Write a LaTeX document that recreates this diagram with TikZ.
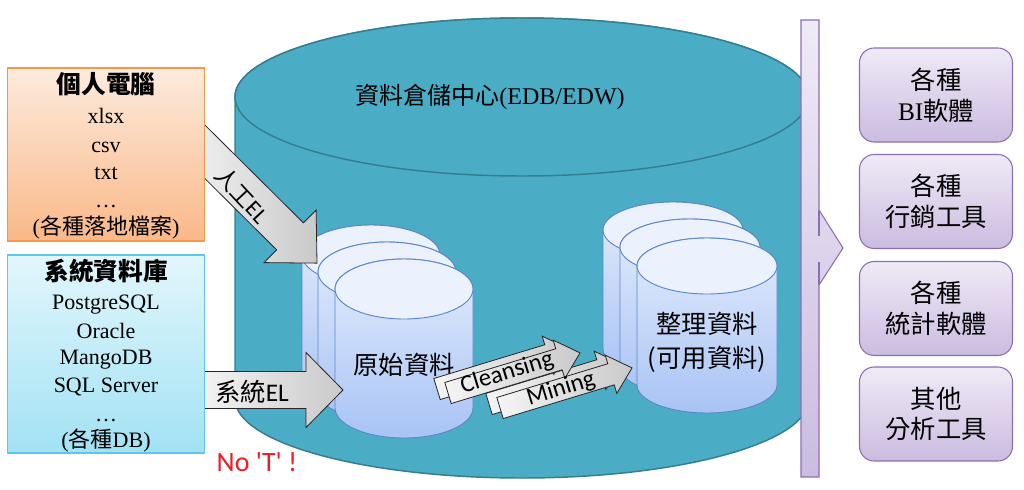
\documentclass[tikz,border=0pt]{standalone}
\usepackage{fontspec}
\setmainfont{Liberation Serif}
\newfontfamily\cjk{Noto Sans CJK TC}
\newfontfamily\calfont{Carlito}
\definecolor{teal1}{HTML}{4BACC6}
\definecolor{teal2}{HTML}{357D91}
\definecolor{cyltop}{HTML}{E3ECFC}
\definecolor{cylbot}{HTML}{A8C3F4}
\definecolor{cylline}{HTML}{5B87C9}
\definecolor{orgtop}{HTML}{FDEBDD}
\definecolor{orgbot}{HTML}{F9B888}
\definecolor{orgline}{HTML}{F79646}
\definecolor{blutop}{HTML}{E2F6FC}
\definecolor{blubot}{HTML}{A2E2F4}
\definecolor{bluline}{HTML}{5BC8E6}
\definecolor{purtop}{HTML}{EFEAF6}
\definecolor{purbot}{HTML}{CBBCE0}
\definecolor{purline}{HTML}{8C6FB3}
\definecolor{redtxt}{HTML}{EE1C25}
% cylinder: cx, top cy, bottom cy, rx, ry, body style, top style
\newcommand\cyl[7]{%
  \path[#6] ({#1-#4},-#2) -- ({#1-#4},-#3)
    arc[start angle=180,end angle=360,x radius=#4,y radius=#5]
    -- ({#1+#4},-#2)
    arc[start angle=0,end angle=180,x radius=#4,y radius=#5] -- cycle;
  \path[#7] (#1,-#2) ellipse[x radius=#4,y radius=#5];}
% block arrow: tail x, tail y, angle, length, shaft half, head half, head length, style
\newcommand\barrow[8]{%
  \begin{scope}[shift={(#1,-#2)},rotate=#3]
  \path[#8] (0,#5) -- ({#4-#7},#5) -- ({#4-#7},#6) -- (#4,0)
    -- ({#4-#7},-#6) -- ({#4-#7},-#5) -- (0,-#5) -- cycle;
  \end{scope}}
\begin{document}
\begin{tikzpicture}[x=0.75pt,y=0.75pt,
  bigcyl/.style={fill=teal1,draw=teal2,line width=1.1pt},
  cylbody/.style={top color=cyltop,bottom color=cylbot,draw=cylline,line width=0.7pt},
  cylcap/.style={fill=cyltop!70!white,draw=cylline,line width=0.7pt},
  greyarrow/.style={left color=gray!8,right color=gray!42,draw=black!85,line width=0.6pt},
  srcbox/.style={line width=0.9pt,inner sep=0pt},
  srcline/.style={font=\fontsize{16.5}{18}\selectfont,inner sep=0pt,anchor=base},
  srctitle/.style={font=\cjk\bfseries\fontsize{18.5}{20}\selectfont,inner sep=0pt,anchor=base},
  cyltext/.style={font=\cjk\fontsize{19}{21}\selectfont,inner sep=0pt},
  arrowtext/.style={font=\fontsize{18.5}{20}\selectfont,inner sep=0pt},
  tool/.style={rounded corners=11pt,draw=purline,top color=purtop,bottom color=purbot,
    line width=0.8pt,minimum width={153*0.75pt},minimum height={94*0.75pt},
    align=center,font=\cjk\fontsize{19}{23}\selectfont,inner sep=0pt}]
\useasboundingbox (0,0) rectangle (1024,-489);
\fill[white] (0,0) rectangle (1024,-489);

% big warehouse cylinder
\cyl{522}{97}{399}{287}{79}{bigcyl}{bigcyl}
\node[font=\fontsize{18}{20}\selectfont,inner sep=0pt] (edw) at (490,-97) {{\cjk 資料倉儲中心}(EDB/EDW)};

% raw data stack
\cyl{371}{255}{374}{69}{30}{cylbody}{cylcap}
\cyl{387}{272}{391}{69}{30}{cylbody}{cylcap}
\cyl{404}{289}{408}{69}{30}{cylbody}{cylcap}
\node[cyltext] (raw) at (404,-365) {原始資料};

% cleaned data stack
\cyl{673}{230}{349}{70}{28}{cylbody}{cylcap}
\cyl{690}{247}{367}{70}{28}{cylbody}{cylcap}
\cyl{707}{266}{385}{70}{28}{cylbody}{cylcap}
\node[cyltext] (clean1) at (707,-324) {整理資料};
\node[cyltext] (clean2) at (707,-359) {({\cjk 可用資料})};

% arrows
\barrow{190}{137}{-44.8}{179}{19}{37}{38}{greyarrow}
\node[font=\fontsize{17}{18}\selectfont,inner sep=0pt,rotate=-47] (manual) at (242,-195) {{\cjk 人工}{\calfont EL}};
\barrow{195}{390}{0}{148}{18.5}{37.5}{37}{greyarrow}
\node[font=\fontsize{19}{20}\selectfont,inner sep=0pt] (sysel) at (252,-392) {{\cjk 系統}{\calfont EL}};

\barrow{489}{404}{16.9}{138}{11}{20}{22}{greyarrow}
\barrow{500}{408}{16.9}{138}{11}{20}{22}{greyarrow}
\barrow{437}{389}{16.9}{138}{11}{20}{22}{greyarrow}
\barrow{448}{393}{16.9}{138}{11}{20}{22}{greyarrow}
\node[arrowtext,rotate=16.9] (cleansing) at (507,-373) {\calfont Cleansing};
\node[arrowtext,rotate=16.9] (mining) at (561,-389) {\calfont Mining};

% source boxes
\node[srcbox,top color=orgtop,bottom color=orgbot,draw=orgline,
  minimum width={197*0.75pt},minimum height={173*0.75pt}] (pc) at (106,-154.5) {};
\node[srctitle] (pct) at (106,-93) {個人電腦};
\node[srcline] (pc1) at (106,-123) {xlsx};
\node[srcline] (pc2) at (106,-152) {csv};
\node[srcline] (pc3) at (106,-179) {txt};
\node[srcline] (pc4) at (106,-207) {\dots};
\node[srcline] (pc5) at (106,-234) {({\cjk 各種落地檔案})};

\node[srcbox,top color=blutop,bottom color=blubot,draw=bluline,
  minimum width={197*0.75pt},minimum height={198*0.75pt}] (db) at (106,-354) {};
\node[srctitle] (dbt) at (106,-280) {系統資料庫};
\node[srcline] (db1) at (106,-309) {PostgreSQL};
\node[srcline] (db2) at (106,-338) {Oracle};
\node[srcline] (db3) at (106,-364) {MangoDB};
\node[srcline] (db4) at (106,-392) {SQL Server};
\node[srcline] (db5) at (106,-421) {\dots};
\node[srcline] (db6) at (106,-447) {({\cjk 各種}DB)};

\node[font=\calfont\fontsize{21}{22}\selectfont,text=redtxt,inner sep=0pt] (not) at (257,-462) {No \textquotesingle T\textquotesingle\ !};

% output bar
\path[top color=purtop,bottom color=purbot,draw=purline,line width=0.8pt]
  (801,-20) -- (819,-20) -- (819,-210) -- (843,-248) -- (819,-285) -- (819,-477) -- (801,-477) -- cycle;
\draw[purline,line width=0.8pt] (819,-210) -- (819,-236) (819,-262) -- (819,-285);

% tools
\node[tool] (bi) at (936,-95) {各種\\{\fontspec{Liberation Serif}BI}軟體};
\node[tool] (mkt) at (936,-201.5) {各種\\行銷工具};
\node[tool] (stat) at (936,-308.5) {各種\\統計軟體};
\node[tool] (other) at (936,-414) {其他\\分析工具};
\end{tikzpicture}
\end{document}
